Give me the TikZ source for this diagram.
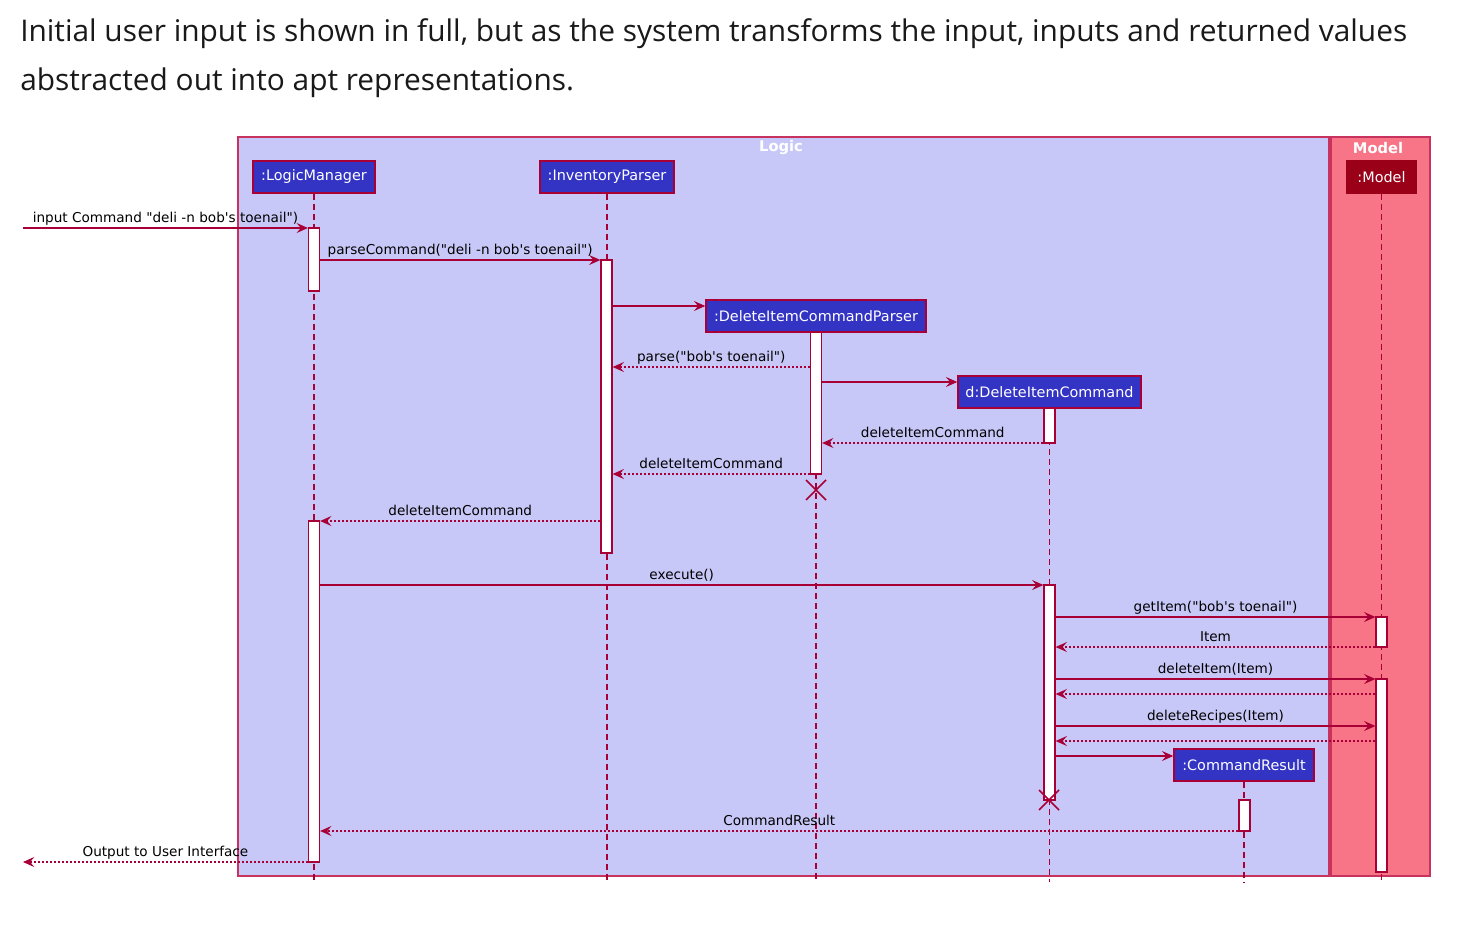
\documentclass[tikz,border=0pt]{standalone}
\usepackage{fontspec}
\newfontfamily\hfont{Open Sans}
\newfontfamily\dfont{DejaVu Sans}
\usetikzlibrary{arrows.meta}
\definecolor{logicfill}{RGB}{200,200,248}
\definecolor{modelfill}{RGB}{248,117,135}
\definecolor{framec}{RGB}{200,50,95}
\definecolor{partfill}{RGB}{52,52,196}
\definecolor{arrowc}{RGB}{168,0,54}
\definecolor{modelpart}{RGB}{155,0,25}
\definecolor{headc}{RGB}{25,25,25}
\begin{document}
\begin{tikzpicture}[x=0.75pt,y=-0.75pt,
  frame/.style={draw=framec,line width=1.1pt},
  ftitle/.style={text=white,font=\dfont\bfseries\fontsize{11}{13}\selectfont,inner sep=0pt},
  part/.style={draw=arrowc,fill=partfill,text=white,line width=1.1pt,inner sep=0pt,
    minimum height=24pt,font=\dfont\fontsize{10.8}{13}\selectfont},
  act/.style={draw=arrowc,fill=white,line width=0.9pt,inner sep=0pt,minimum width=8.25pt,minimum height={#1*0.75pt}},
  life/.style={draw=arrowc,line width=0.8pt,dash pattern=on 4.5pt off 3pt},
  msg/.style={draw=arrowc,line width=0.85pt,-{Stealth[length=8.5pt,width=7.5pt,inset=3.2pt]}},
  ret/.style={msg,dash pattern=on 1.5pt off 1.5pt},
  lbl/.style={midway,anchor=base,yshift=4pt,inner sep=0pt,text=black,font=\dfont\fontsize{10.2}{12}\selectfont},
  xmark/.style={draw=arrowc,line width=1.1pt},
  heading/.style={anchor=base west,inner sep=0pt,text=headc,font=\hfont\fontsize{22.4}{26}\selectfont}]
\useasboundingbox (0,0) rectangle (1480,924);
% heading
\node[heading] (h1) at (20,42) {Initial user input is shown in full, but as the system transforms the input, inputs and returned values};
\node[heading] (h2) at (20,90) {abstracted out into apt representations.};
% frames
\filldraw[frame,fill=logicfill] (238,137) rectangle (1329,876);
\filldraw[frame,fill=modelfill] (1331,137) rectangle (1430,876);
\node[ftitle] (tlogic) at (781,148) {Logic};
\node[ftitle] (tmodel) at (1378,148) {Model};
% participants
\node[part,minimum width={122*0.75pt}] (lm) at (314,177) {:LogicManager};
\node[part,minimum width={134*0.75pt}] (ip) at (607,177) {:InventoryParser};
\node[part,minimum width={220*0.75pt}] (dp) at (816,316) {:DeleteItemCommandParser};
\node[part,minimum width={183*0.75pt}] (dc) at (1049.5,392) {d:DeleteItemCommand};
\node[part,minimum width={140*0.75pt}] (cr) at (1244,765) {:CommandResult};
\node[part,draw=modelpart,fill=modelpart,minimum width={69*0.75pt}] (md) at (1381.5,177) {:Model};
% lifelines
\draw[life] (lm.south) -- (lm.south |- 0,882);
\draw[life] (ip.south) -- (ip.south |- 0,882);
\draw[life] (dp.south) -- (dp.south |- 0,882);
\draw[life] (dc.south) -- (dc.south |- 0,882);
\draw[life] (cr.south) -- (cr.south |- 0,882);
\draw[life] (md.south) -- (md.south |- 0,882);
% activations
\node[act=63] (lm1) at (314,259.5) {};
\node[act=341] (lm2) at (314,691.5) {};
\node[act=293] (ip1) at (606.5,406.5) {};
\node[act=142] (dp1) at (816,403) {};
\node[act=35] (dc1) at (1049.5,425.5) {};
\node[act=215] (dc2) at (1049.5,692.5) {};
\node[act=30] (md1) at (1381.5,632) {};
\node[act=193] (md2) at (1381.5,775.5) {};
\node[act=31] (cr1) at (1244.5,815.5) {};
% destroy marks
\draw[xmark] (806,480) -- (826,500) (806,500) -- (826,480);
\draw[xmark] (1039,790) -- (1059,810) (1039,810) -- (1059,790);
% messages
\coordinate (uin) at (23,228);
\coordinate (uout) at (23,862);
\draw[msg] (uin) -- node[lbl]{input Command "deli -n bob's toenail")} (lm1.west |- 0,228);
\draw[msg] (lm1.east |- 0,260) -- node[lbl]{parseCommand("deli -n bob's toenail")} (ip1.west |- 0,260);
\draw[msg] (ip1.east |- 0,306) -- (dp.west |- 0,306);
\draw[ret] (dp1.west |- 0,367) -- node[lbl]{parse("bob's toenail")} (ip1.east |- 0,367);
\draw[msg] (dp1.east |- 0,382) -- (dc.west |- 0,382);
\draw[ret] (dc1.west |- 0,443) -- node[lbl]{deleteItemCommand} (dp1.east |- 0,443);
\draw[ret] (dp1.west |- 0,474) -- node[lbl]{deleteItemCommand} (ip1.east |- 0,474);
\draw[ret] (ip1.west |- 0,521) -- node[lbl]{deleteItemCommand} (lm2.east |- 0,521);
\draw[msg] (lm2.east |- 0,585) -- node[lbl]{execute()} (dc2.west |- 0,585);
\draw[msg] (dc2.east |- 0,617) -- node[lbl]{getItem("bob's toenail")} (md1.west |- 0,617);
\draw[ret] (md1.west |- 0,647) -- node[lbl]{Item} (dc2.east |- 0,647);
\draw[msg] (dc2.east |- 0,679) -- node[lbl]{deleteItem(Item)} (md2.west |- 0,679);
\draw[ret] (md2.west |- 0,694) -- (dc2.east |- 0,694);
\draw[msg] (dc2.east |- 0,726) -- node[lbl]{deleteRecipes(Item)} (md2.west |- 0,726);
\draw[ret] (md2.west |- 0,741) -- (dc2.east |- 0,741);
\draw[msg] (dc2.east |- 0,756) -- (cr.west |- 0,756);
\draw[ret] (cr1.west |- 0,831) -- node[lbl]{CommandResult} (lm2.east |- 0,831);
\draw[ret] (lm2.west |- 0,862) -- node[lbl]{Output to User Interface} (uout);
\end{tikzpicture}
\end{document}
